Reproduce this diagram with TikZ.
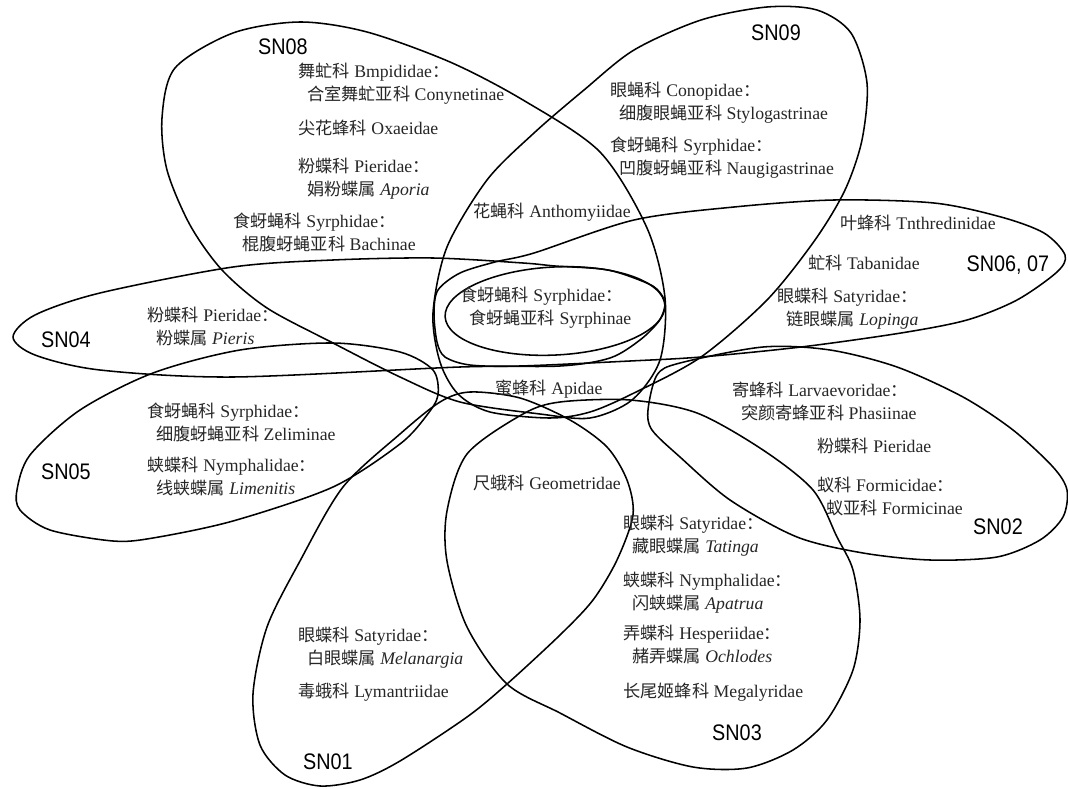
\documentclass[tikz,border=0pt]{standalone}
\usepackage{fontspec}
\setmainfont{Liberation Serif}
\newfontfamily\zh[Scale=0.97]{Noto Sans CJK SC}
\newfontfamily\snfont[FakeStretch=0.88]{Liberation Sans}
\usepackage{tikz}

\newcommand{\ind}{\hspace*{0.5em}}

\begin{document}
\begin{tikzpicture}
    [x = 0.025cm, y = -0.025cm,
    petal/.style={draw=black, line width=1.1pt},
    taxon/.style={anchor=north west, inner sep=0pt, align=left,
      text=black!85, font=\fontsize{12.6}{16.3}\selectfont},
    setname/.style={inner sep=0pt, font=\snfont\fontsize{16}{16}\selectfont}]
    \useasboundingbox (0,0) rectangle (1068,789);

    % the nine sets
    \draw [petal] plot [smooth cycle] coordinates {(590,418) (540,414)
      (460,402) (400,377) (333,343) (267,308) (222,270) (190,225)
      (167,170) (162,118) (175,68) (233,33) (300,22) (367,32) (450,62)
      (523,100) (600,152) (647,228) (665,298) (660,360) (632,400)};
    \draw [petal] plot [smooth cycle] coordinates {(550,418) (490,412)
      (458,394) (440,362) (433,313) (447,247) (487,180) (534,133)
      (584,90) (634,50) (701,20) (767,7) (817,10) (851,33) (867,83)
      (862,140) (845,190) (815,240) (767,300) (701,357) (634,393) (590,412)};
    \draw [petal] plot [smooth cycle] coordinates {(434,313) (438,290)
      (460,273) (495,262) (534,253) (634,220) (734,207) (834,200)
      (934,203) (1001,217) (1044,233) (1065,255) (1057,272) (1017,300)
      (967,320) (901,333) (801,347) (701,357) (630,361) (520,366)
      (470,365) (445,357) (437,342)};
    \draw [petal] plot [smooth cycle] coordinates {(13,337) (35,315)
      (100,293) (233,267) (333,260) (433,258) (523,263) (555,266)
      (608,270) (649,284) (661,294) (665,305) (659,321) (640,340)
      (610,358) (560,366) (460,367) (233,377) (100,370) (35,355)};
    \draw [petal] plot [smooth cycle] coordinates {(17,490) (30,455)
      (80,410) (153,373) (240,350) (333,343) (400,352) (433,370)
      (438,395) (427,415) (400,444) (333,487) (233,521) (153,538)
      (113,541) (50,530) (20,510)};
    \draw [petal] plot [smooth cycle] coordinates {(470,392) (520,398)
      (570,420) (607,447) (627,480) (633,515) (617,560) (593,600)
      (560,635) (507,684) (467,717) (400,761) (360,780) (320,786)
      (285,775) (260,745) (253,694) (267,627) (300,561) (343,487)
      (400,434) (440,402)};
    \draw [petal] plot [smooth cycle] coordinates {(560,402) (523,414)
      (467,454) (447,511) (447,561) (467,627) (507,684) (560,713)
      (627,747) (693,767) (747,768) (793,750) (827,720) (853,670)
      (860,620) (853,570) (837,537) (813,490) (763,450) (697,413) (630,400)};
    \draw [petal] plot [smooth cycle] coordinates {(648,410) (657,375)
      (680,363) (763,347) (830,350) (897,367) (963,397) (1013,430)
      (1053,467) (1067,490) (1063,517) (1040,540) (997,557) (930,560)
      (863,553) (797,537) (730,500) (680,457) (652,430)};
    \coordinate (syrphinae_centre) at (555,311);
    \draw [petal, rotate around={3:(syrphinae_centre)}] (syrphinae_centre)
      ellipse [x radius=2.75cm, y radius=1.1cm];

    % set names
    \node [setname] (sn08) at (283,47) {SN08};
    \node [setname] (sn09) at (776,33) {SN09};
    \node [setname] (sn0607) at (1008,265) {SN06, 07};
    \node [setname] (sn04) at (66,340) {SN04};
    \node [setname] (sn05) at (66,472) {SN05};
    \node [setname] (sn02) at (998,527) {SN02};
    \node [setname] (sn03) at (737,733) {SN03};
    \node [setname] (sn01) at (328,762) {SN01};

    % SN08
    \node [taxon] (bmpididae) at (298,63) {{\zh 舞虻科} Bmpididae{\zh ：}\\
      \ind{\zh 合室舞虻亚科} Conynetinae};
    \node [taxon] (oxaeidae) at (298,120) {{\zh 尖花蜂科} Oxaeidae};
    \node [taxon] (aporia) at (298,158) {{\zh 粉蝶科} Pieridae{\zh ：}\\
      \ind{\zh 娟粉蝶属} \textit{Aporia}};
    \node [taxon] (bachinae) at (233,213) {{\zh 食蚜蝇科} Syrphidae{\zh ：}\\
      \ind{\zh 棍腹蚜蝇亚科} Bachinae};
    % SN09
    \node [taxon] (conopidae) at (610,82) {{\zh 眼蝇科} Conopidae{\zh ：}\\
      \ind{\zh 细腹眼蝇亚科} Stylogastrinae};
    \node [taxon] (naugigastrinae) at (610,137) {{\zh 食蚜蝇科} Syrphidae{\zh ：}\\
      \ind{\zh 凹腹蚜蝇亚科} Naugigastrinae};
    % centre
    \node [taxon] (anthomyiidae) at (473,203) {{\zh 花蝇科} Anthomyiidae};
    \node [taxon] (syrphinae) at (460,287) {{\zh 食蚜蝇科} Syrphidae{\zh ：}\\
      \ind{\zh 食蚜蝇亚科} Syrphinae};
    \node [taxon] (apidae) at (495,380) {{\zh 蜜蜂科} Apidae};
    % SN06, 07
    \node [taxon] (tnthredinidae) at (840,215) {{\zh 叶蜂科} Tnthredinidae};
    \node [taxon] (tabanidae) at (808,255) {{\zh 虻科} Tabanidae};
    \node [taxon] (lopinga) at (777,288) {{\zh 眼蝶科} Satyridae{\zh ：}\\
      \ind{\zh 链眼蝶属} \textit{Lopinga}};
    % SN04
    \node [taxon] (pieris) at (147,307) {{\zh 粉蝶科} Pieridae{\zh ：}\\
      \ind{\zh 粉蝶属} \textit{Pieris}};
    % SN05
    \node [taxon] (zeliminae) at (147,403) {{\zh 食蚜蝇科} Syrphidae{\zh ：}\\
      \ind{\zh 细腹蚜蝇亚科} Zeliminae};
    \node [taxon] (limenitis) at (147,457) {{\zh 蛱蝶科} Nymphalidae{\zh ：}\\
      \ind{\zh 线蛱蝶属} \textit{Limenitis}};
    % SN03
    \node [taxon] (geometridae) at (473,475) {{\zh 尺蛾科} Geometridae};
    \node [taxon] (tatinga) at (623,515) {{\zh 眼蝶科} Satyridae{\zh ：}\\
      \ind{\zh 藏眼蝶属} \textit{Tatinga}};
    \node [taxon] (apatrua) at (623,572) {{\zh 蛱蝶科} Nymphalidae{\zh ：}\\
      \ind{\zh 闪蛱蝶属} \textit{Apatrua}};
    \node [taxon] (ochlodes) at (623,625) {{\zh 弄蝶科} Hesperiidae{\zh ：}\\
      \ind{\zh 赭弄蝶属} \textit{Ochlodes}};
    \node [taxon] (megalyridae) at (623,683) {{\zh 长尾姬蜂科} Megalyridae};
    % SN02
    \node [taxon] (phasiinae) at (732,382) {{\zh 寄蜂科} Larvaevoridae{\zh ：}\\
      \ind{\zh 突颜寄蜂亚科} Phasiinae};
    \node [taxon] (pieridae) at (817,438) {{\zh 粉蝶科} Pieridae};
    \node [taxon] (formicinae) at (817,477) {{\zh 蚁科} Formicidae{\zh ：}\\
      \ind{\zh 蚁亚科} Formicinae};
    % SN01
    \node [taxon] (melanargia) at (298,627) {{\zh 眼蝶科} Satyridae{\zh ：}\\
      \ind{\zh 白眼蝶属} \textit{Melanargia}};
    \node [taxon] (lymantriidae) at (298,683) {{\zh 毒蛾科} Lymantriidae};
  \end{tikzpicture}
\end{document}
